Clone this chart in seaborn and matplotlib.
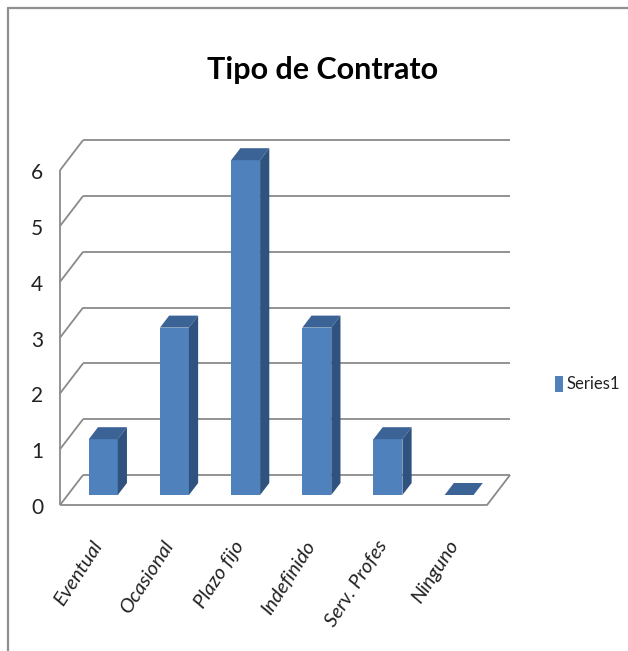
import matplotlib
matplotlib.use("Agg")
import matplotlib.pyplot as plt
from matplotlib.patches import Polygon
from matplotlib.lines import Line2D
from matplotlib.transforms import ScaledTranslation
import seaborn as sns
import pandas as pd

# Contract types and their counts
categorias = ["Eventual", "Ocasional", "Plazo fijo", "Indefinido", "Serv. Profes", "Ninguno"]
valores = [1, 3, 6, 3, 1, 0]
marcas_y = [0, 1, 2, 3, 4, 5, 6]
titulo = "Tipo de Contrato"
serie = "Series1"

sns.set_theme(style="white")
plt.rcParams["font.family"] = ["Lato", "DejaVu Sans"]

W, H, DPI = 628, 651, 100
fig = plt.figure(figsize=(W / DPI, H / DPI), dpi=DPI)
fig.patch.set_facecolor("white")

# Axes = the plane of the bars' front faces (pixel box of that plane)
x0_px, x1_px, y0_px, y1_px = 67.7, 494.7, 495.0, 160.2
ax = fig.add_axes([x0_px / W, 1 - y0_px / H, (x1_px - x0_px) / W, (y0_px - y1_px) / H])
ax.set_xlim(-0.5, 5.5)
ax.set_ylim(0, 6)
ax.patch.set_alpha(0)
for s in ax.spines.values():
    s.set_visible(False)

# pixel -> data scale and the 3-D depth vector (23 px right, 30 px up)
sx = 6.0 / (x1_px - x0_px)
sy = 6.0 / (y0_px - y1_px)
DX, DY = 23 * sx, 30 * sy
F0 = 1.0 / 3.0      # depth of the bar front faces
BF = 0.4            # bar depth as a fraction of the full depth


def P(x, v, f):
    """Point at category-x, value v, depth fraction f (0 = front, 1 = back)."""
    return (x + (f - F0) * DX, v + (f - F0) * DY)


grid_kw = dict(color="#8a8a8a", lw=1.3, solid_capstyle="butt", clip_on=False, zorder=1)

# back wall grid lines and left wall diagonals
for v in marcas_y:
    a, b = P(-0.5, v, 1), P(5.5, v, 1)
    ax.add_line(Line2D([a[0], b[0]], [a[1], b[1]], **grid_kw))
    a, b = P(-0.5, v, 0), P(-0.5, v, 1)
    ax.add_line(Line2D([a[0], b[0]], [a[1], b[1]], **grid_kw))
# left wall front edge
a, b = P(-0.5, 0, 0), P(-0.5, 6, 0)
ax.add_line(Line2D([a[0], b[0]], [a[1], b[1]], **grid_kw))
# floor outline
a, b, c = P(-0.5, 0, 0), P(5.5, 0, 0), P(5.5, 0, 1)
ax.add_line(Line2D([a[0], b[0], c[0]], [a[1], b[1], c[1]], **grid_kw))

# bars (front faces)
df = pd.DataFrame({"Tipo": categorias, "Cantidad": valores})
sns.barplot(data=df, x="Tipo", y="Cantidad", color="#4F81BD", saturation=1,
            width=0.407, ax=ax, label=serie, zorder=3, linewidth=0)
ax.set_xlim(-0.5, 5.5)
ax.set_ylim(0, 6)

bdx, bdy = BF * DX, BF * DY
for p in ax.patches:
    x0, w, h = p.get_x(), p.get_width(), p.get_height()
    top = [(x0, h), (x0 + w, h), (x0 + w + bdx, h + bdy), (x0 + bdx, h + bdy)]
    ax.add_patch(Polygon(top, closed=True, facecolor="#3B6396", edgecolor="none",
                         zorder=4, clip_on=False))
    if h > 0:
        side = [(x0 + w, 0), (x0 + w, h), (x0 + w + bdx, h + bdy), (x0 + w + bdx, bdy)]
        ax.add_patch(Polygon(side, closed=True, facecolor="#30527E", edgecolor="none",
                             zorder=4, clip_on=False))

# value labels on the front edge of the left wall
ax.set_yticks([])
for v in marcas_y:
    ax.annotate(str(v), xy=P(-0.5, v, 0), xytext=(-23, -3), textcoords="offset pixels",
                ha="center", va="center", fontsize=15, color="#222222",
                annotation_clip=False)

# category labels
ax.set_xlabel("")
ax.set_ylabel("")
ax.set_xticks(range(len(categorias)))
ax.set_xticklabels(categorias, rotation=57, ha="right", va="center",
                   rotation_mode="anchor", fontsize=14.5, color="#222222")
ax.tick_params(axis="x", length=0, pad=34)
shift = ScaledTranslation(-5 / DPI, 0, fig.dpi_scale_trans)
for lab in ax.get_xticklabels():
    lab.set_fontstyle("italic")
    lab.set_transform(lab.get_transform() + shift)

# legend
leg = ax.legend(loc="center left", bbox_to_anchor=(555 / W, 1 - 384 / H),
                bbox_transform=fig.transFigure, frameon=False, fontsize=12,
                handlelength=0.45, handleheight=1.1, handletextpad=0.25, borderpad=0,
                borderaxespad=0)
for t in leg.get_texts():
    t.set_color("#222222")

# title
fig.text(323 / W, 1 - 79 / H, titulo, ha="center", va="baseline",
         fontsize=22, fontweight="bold", color="black")

# chart-area border
frame_kw = dict(color="#8f8f8f", lw=1.6, transform=fig.transFigure)
fig.add_artist(Line2D([8 / W, 1], [1 - 8 / H, 1 - 8 / H], **frame_kw))
fig.add_artist(Line2D([8 / W, 8 / W], [1 - 8 / H, 0], **frame_kw))

fig.savefig("out.png", dpi=DPI, facecolor="white")
